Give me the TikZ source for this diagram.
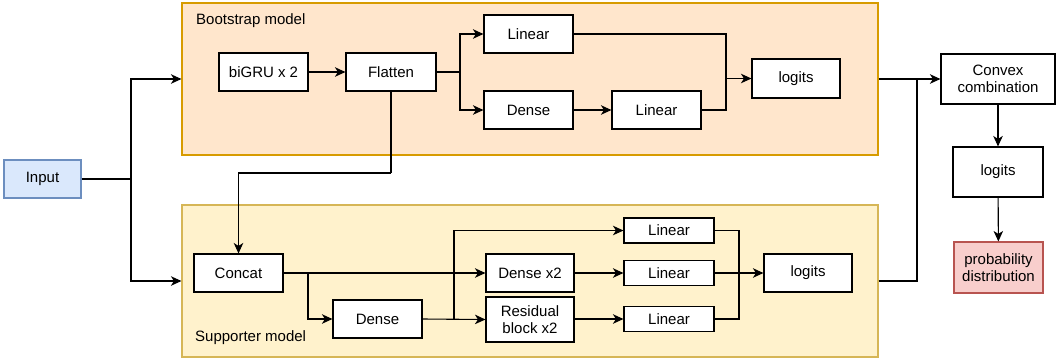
\documentclass[tikz,border=0pt]{standalone}
\usepackage{fontspec}
\setmainfont{Liberation Sans}
\usetikzlibrary{arrows.meta}
\definecolor{inpfill}{HTML}{DAE8FC}
\definecolor{inpdraw}{HTML}{6C8EBF}
\definecolor{bootfill}{HTML}{FFE6CC}
\definecolor{bootdraw}{HTML}{D79B00}
\definecolor{suppfill}{HTML}{FFF2CC}
\definecolor{suppdraw}{HTML}{D6B656}
\definecolor{probfill}{HTML}{F8CECC}
\definecolor{probdraw}{HTML}{B85450}
\tikzset{
  blk/.style={draw=black, fill=white, line width=1.1pt, inner sep=0pt, align=center,
    font=\fontsize{15}{17}\selectfont},
  grp/.style={line width=1.1pt, inner sep=0pt},
  lbl/.style={font=\fontsize{15}{17}\selectfont, anchor=west, inner sep=0pt},
  arr/.style={line width=1.1pt, -{Stealth[length=10.5pt,width=9.5pt,inset=3pt]}},
  ln/.style={line width=1.1pt},
}
\begin{document}
\begin{tikzpicture}[x=1pt,y=-1pt]
\useasboundingbox (0,0) rectangle (1062,360);
% groups
\node[grp, draw=bootdraw, fill=bootfill, minimum width=696pt, minimum height=152pt] (boot) at (530,79) {};
\node[grp, draw=suppdraw, fill=suppfill, minimum width=696pt, minimum height=152pt] (supp) at (530,281) {};
\node[lbl] (bootlbl) at (196,21) {Bootstrap model};
\node[lbl] (supplbl) at (195,338) {Supporter model};
% input
\node[blk, draw=inpdraw, fill=inpfill, minimum width=77pt, minimum height=38pt] (input) at (42.5,179) {Input};
% bootstrap
\node[blk, minimum width=89pt, minimum height=38pt] (bigru) at (263.5,72) {biGRU x 2};
\node[blk, minimum width=90pt, minimum height=38pt] (flatten) at (391,72) {Flatten};
\node[blk, minimum width=89pt, minimum height=38pt] (linA) at (528.5,34) {Linear};
\node[blk, minimum width=89pt, minimum height=38pt] (denseA) at (528.5,110) {Dense};
\node[blk, minimum width=89pt, minimum height=38pt] (linB) at (656.5,110) {Linear};
\node[blk, minimum width=88pt, minimum height=39pt] (logitsA) at (796,78.5) {logits};
% supporter
\node[blk, minimum width=89pt, minimum height=38pt] (concat) at (238.5,273) {Concat};
\node[blk, minimum width=89pt, minimum height=38pt] (denseB) at (377.5,319) {Dense};
\node[blk, minimum width=88pt, minimum height=38pt] (dense2) at (530,273) {Dense x2};
\node[blk, minimum width=88pt, minimum height=45pt] (resid) at (530,319.5) {Residual\\block x2};
\node[blk, minimum width=90pt, minimum height=25pt] (linT) at (669,230.5) {Linear};
\node[blk, minimum width=90pt, minimum height=25pt] (linM) at (669,273) {Linear};
\node[blk, minimum width=90pt, minimum height=25pt] (linBt) at (669,319) {Linear};
\node[blk, minimum width=88pt, minimum height=38pt] (logitsB) at (808,273) {logits};
% right column
\node[blk, minimum width=114pt, minimum height=50pt] (convex) at (998,79) {Convex\\combination};
\node[blk, minimum width=90pt, minimum height=50pt] (logitsC) at (998,172) {logits};
\node[blk, draw=probdraw, fill=probfill, minimum width=89pt, minimum height=51pt] (prob) at (998.5,267.5) {probability\\distribution};
% junction coordinates
\coordinate (jin) at (131,179);
\coordinate (jfl) at (460,72);
\coordinate (jbo) at (726,78.5);
\coordinate (fb) at (391,173);
\coordinate (jco) at (308,273);
\coordinate (jde) at (454,319);
\coordinate (jli) at (739,273);
\coordinate (jout) at (917,79);
% input connectors
\draw[ln] (input.east) -- (jin);
\draw[arr] (jin) |- (boot.west);
\draw[arr] (jin) |- (supp.west);
% bootstrap connectors
\draw[arr] (bigru) -- (flatten);
\draw[ln] (flatten.east) -- (jfl);
\draw[arr] (jfl) |- (linA.west);
\draw[arr] (jfl) |- (denseA.west);
\draw[arr] (denseA) -- (linB);
\draw[ln] (linA.east) -| (jbo);
\draw[ln] (linB.east) -| (jbo);
\draw[arr] (jbo) -- (logitsA.west);
\draw[ln] (flatten.south) -- (fb);
\draw[arr] (fb) -| (concat.north);
% supporter connectors
\draw[arr] (concat.east) -- (dense2.west);
\draw[arr] (jco) |- (denseB.west);
\draw[arr] (denseB.east) -- (resid.west);
\draw[arr] (jde) |- (linT.west);
\draw[arr] (dense2) -- (linM);
\draw[arr] (resid.east |- linBt) -- (linBt.west);
\draw[ln] (linT.east) -| (jli);
\draw[ln] (linBt.east) -| (jli);
\draw[arr] (linM.east) -- (logitsB.west);
% outputs
\draw[arr] (boot.east) -- (convex.west);
\draw[ln] (supp.east) -| (jout);
\draw[arr] (convex) -- (logitsC);
\draw[arr] (logitsC) -- (prob);
\end{tikzpicture}
\end{document}
